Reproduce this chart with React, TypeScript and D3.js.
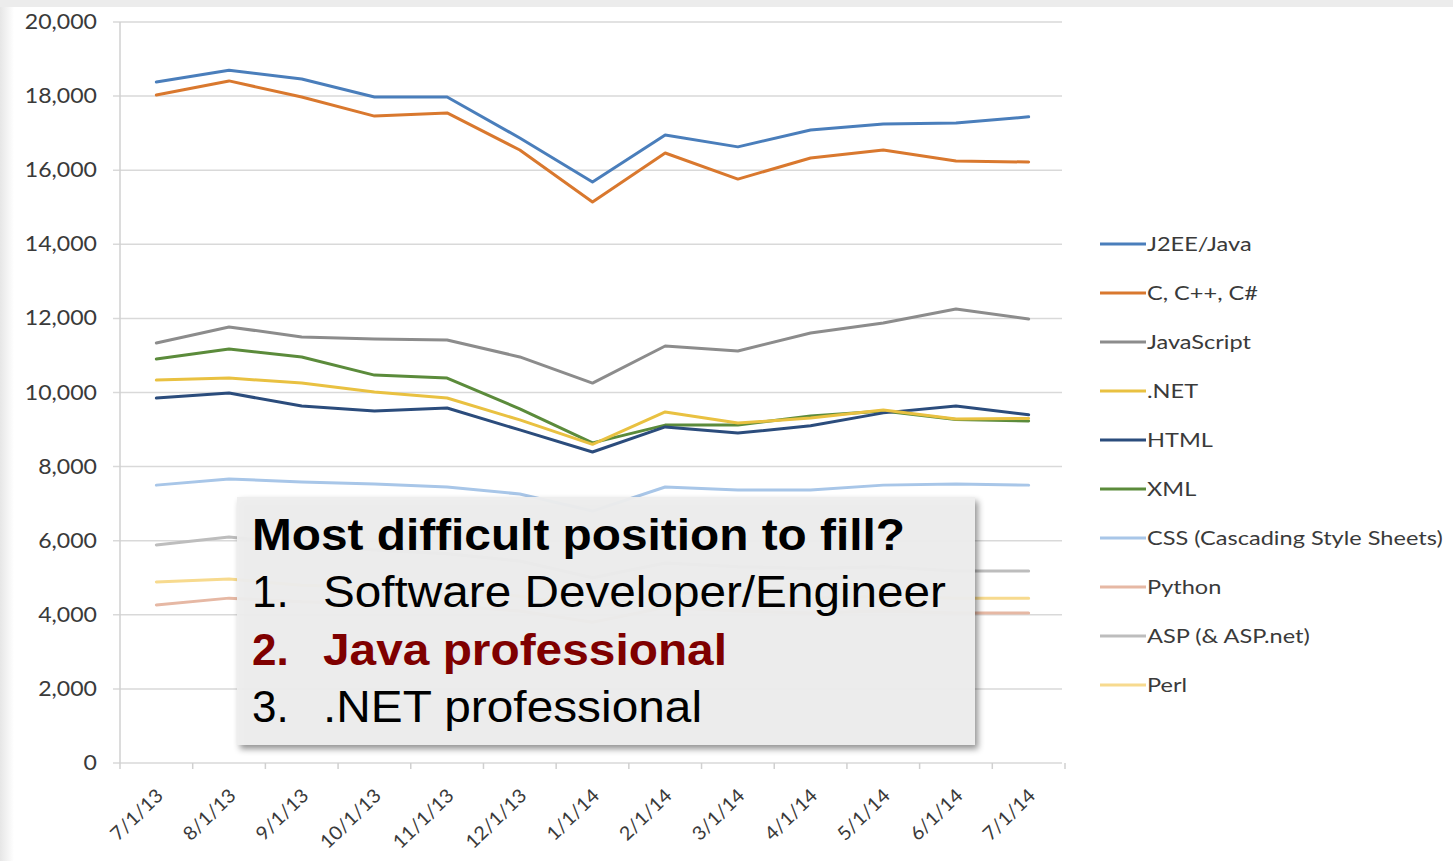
import React from "react";
import * as d3 from "d3";

const categories = ["7/1/13","8/1/13","9/1/13","10/1/13","11/1/13","12/1/13","1/1/14","2/1/14","3/1/14","4/1/14","5/1/14","6/1/14","7/1/14"];

const j2eeJava = [18380,18700,18460,17975,17975,16870,15680,16950,16630,17085,17250,17275,17440];
const cFamily = [18030,18410,17975,17460,17545,16545,15140,16465,15760,16330,16545,16250,16220];
const javaScript = [11335,11770,11500,11445,11415,10960,10255,11255,11120,11605,11875,12255,11985];
const dotNet = [10335,10390,10255,10015,9850,9260,8600,9475,9175,9310,9530,9285,9300];
const html = [9850,9985,9635,9500,9580,8990,8395,9070,8905,9100,9450,9635,9400];
const xml = [10905,11175,10960,10470,10390,9560,8640,9120,9120,9365,9500,9270,9230];
const css = [7500,7665,7585,7530,7450,7260,6800,7450,7370,7370,7500,7530,7500];
const python = [4265,4450,4350,4300,4250,4100,3800,4200,4100,4050,4100,4050,4050];
const asp = [5885,6100,5900,5750,5650,5450,5000,5400,5300,5250,5300,5180,5180];
const perl = [4885,4965,4800,4750,4700,4500,4200,4600,4500,4450,4500,4450,4450];

const seriesNames = ["J2EE/Java","C, C++, C#","JavaScript",".NET","HTML","XML","CSS (Cascading Style Sheets)","Python","ASP (& ASP.net)","Perl"];
const seriesValues = [j2eeJava,cFamily,javaScript,dotNet,html,xml,css,python,asp,perl];
const seriesColors = ["#4a7ebb","#d9782e","#8c8c8c","#e9c141","#2b4c7c","#5b8b3b","#a8c6e8","#e6b8a4","#bdbdbd","#f7da8e"];

const yTicks = [0,2000,4000,6000,8000,10000,12000,14000,16000,18000,20000];

const W = 1453, H = 861;

export default function App() {
  const x = d3.scaleBand<string>().domain(categories).range([120, 1065]);
  const y = d3.scaleLinear().domain([0, 20000]).range([763, 22]);
  const cx = (c: string) => (x(c) as number) + x.bandwidth() / 2;
  const line = d3.line<number>().x((_, i) => cx(categories[i])).y(v => y(v));
  const fmt = d3.format(",");
  const drawOrder = [9,8,7,6,5,4,3,2,1,0];
  const boundaries = d3.range(categories.length + 1).map(i => 120 + i * x.bandwidth());

  return (
    <div style={{ position: "absolute", left: 0, top: 0 }}>
      <svg width={W} height={H} style={{ display: "block" }}>
        <defs>
          <filter id="shadow" x="-5%" y="-5%" width="115%" height="120%">
            <feDropShadow dx="3" dy="4" stdDeviation="3" floodColor="#000" floodOpacity="0.45" />
          </filter>
          <linearGradient id="leftEdge" x1="0" x2="1" y1="0" y2="0">
            <stop offset="0" stopColor="#e6e6e6" />
            <stop offset="1" stopColor="#ffffff" />
          </linearGradient>
        </defs>
        <rect x={0} y={0} width={W} height={H} fill="#ffffff" />
        <rect x={0} y={0} width={14} height={H} fill="url(#leftEdge)" />
        <rect x={0} y={0} width={W} height={7} fill="#ececec" />

        {yTicks.map(t => (
          <line key={t} x1={113} x2={1062} y1={y(t)} y2={y(t)} stroke="#d9d9d9" strokeWidth={1.5} />
        ))}
        <line x1={120} x2={120} y1={y(20000)} y2={y(0)} stroke="#d0d0d0" strokeWidth={1.5} />
        {boundaries.map((b, i) => (
          <line key={i} x1={b} x2={b} y1={y(0)} y2={y(0) + 6} stroke="#d0d0d0" strokeWidth={1.5} />
        ))}
        {yTicks.map(t => (
          <text key={t} transform={`translate(97,${y(t) + 7}) scale(1.1,1)`} textAnchor="end"
            fontFamily="Lato, 'DejaVu Sans', sans-serif" fontSize={21} fill="#3a3a3a">{fmt(t)}</text>
        ))}
        {categories.map(c => (
          <text key={c} transform={`translate(${cx(c) + 8},${797}) rotate(-44) scale(1.05,1)`} textAnchor="end"
            fontFamily="Lato, 'DejaVu Sans', sans-serif" fontSize={19} fill="#3a3a3a">{c}</text>
        ))}

        {drawOrder.map(i => (
          <path key={seriesNames[i]} d={line(seriesValues[i]) || ""} fill="none" stroke={seriesColors[i]}
            strokeWidth={3} strokeLinejoin="round" strokeLinecap="round" />
        ))}

        {seriesNames.map((n, i) => {
          const ly = 244 + i * 49;
          return (
            <g key={n}>
              <line x1={1100} x2={1146} y1={ly} y2={ly} stroke={seriesColors[i]} strokeWidth={3} />
              <text transform={`translate(1147,${ly + 7}) scale(1.24,1)`} fontFamily="Lato, 'DejaVu Sans', sans-serif"
                fontSize={19} fill="#3a3a3a">{n}</text>
            </g>
          );
        })}

        <rect x={237} y={497} width={738} height={248} fill="#eeeeee" fillOpacity={0.94} filter="url(#shadow)" />
        <g fontFamily="'Liberation Sans', Arial, sans-serif">
          <text x={252} y={550} fontSize={44} fontWeight="bold" fill="#000" textLength={653} lengthAdjust="spacingAndGlyphs">Most difficult position to fill?</text>
          <text x={252} y={607} fontSize={44} fill="#000">1.</text>
          <text x={323} y={607} fontSize={44} fill="#000" textLength={623} lengthAdjust="spacingAndGlyphs">Software Developer/Engineer</text>
          <text x={252} y={665} fontSize={44} fontWeight="bold" fill="#7f0000">2.</text>
          <text x={323} y={665} fontSize={44} fontWeight="bold" fill="#7f0000" textLength={404} lengthAdjust="spacingAndGlyphs">Java professional</text>
          <text x={252} y={722} fontSize={44} fill="#000">3.</text>
          <text x={323} y={722} fontSize={44} fill="#000" textLength={379} lengthAdjust="spacingAndGlyphs">.NET professional</text>
        </g>
      </svg>
    </div>
  );
}
